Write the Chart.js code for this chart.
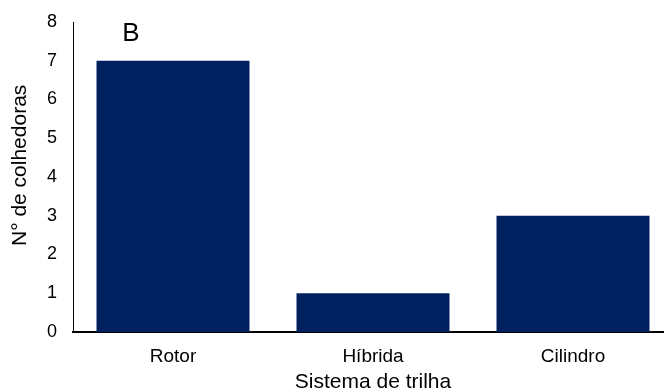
<!DOCTYPE html>
<html>
<head>
<meta charset="utf-8">
<script src="https://cdn.jsdelivr.net/npm/chart.js@4.4.1/dist/chart.umd.min.js"></script>
<style>
  html, body { margin: 0; padding: 0; overflow: hidden; background: #fff; }
  #wrap { width: 673px; height: 392px; }
</style>
</head>
<body>
<div id="wrap"><canvas id="colhedorasChart" width="673" height="392"></canvas></div>
<script>
// Number of harvesters per threshing system
const sistemas = ['Rotor', 'Híbrida', 'Cilindro'];
const colhedoras = [7, 1, 3];
const yTicks = [0, 1, 2, 3, 4, 5, 6, 7, 8];

const fontFamily = '"Liberation Sans", Arial, sans-serif';

// Panel letter in the upper left of the plot
const panelLabel = {
    id: 'panelLabel',
    afterDraw(chart) {
        const ctx = chart.ctx;
        const area = chart.chartArea;
        ctx.save();
        ctx.fillStyle = '#000';
        ctx.font = '26px ' + fontFamily;
        ctx.textAlign = 'center';
        ctx.textBaseline = 'middle';
        ctx.fillText('B', area.left + 58, area.top + 12);
        ctx.restore();
    }
};

const ctx = document.getElementById('colhedorasChart').getContext('2d');
const chart = new Chart(ctx, {
    type: 'bar',
    data: {
        labels: sistemas,
        datasets: [{
            data: colhedoras,
            backgroundColor: '#002060',
            borderWidth: 0,
            barPercentage: 0.765,
            categoryPercentage: 1
        }]
    },
    options: {
        responsive: false,
        animation: false,
        layout: { padding: 0 },
        plugins: {
            legend: { display: false },
            tooltip: { enabled: false }
        },
        scales: {
            x: {
                grid: { display: false, drawTicks: false },
                border: { color: '#000', width: 2 },
                ticks: {
                    color: '#000',
                    padding: 13,
                    font: { family: fontFamily, size: 19 }
                },
                title: {
                    display: true,
                    text: 'Sistema de trilha',
                    color: '#000',
                    padding: { top: 0, bottom: 0 },
                    font: { family: fontFamily, size: 21, lineHeight: 0.9 }
                },
                afterFit(scale) { scale.height = 60; }
            },
            y: {
                min: 0,
                max: 8,
                afterBuildTicks(scale) {
                    scale.ticks = yTicks.map(v => ({ value: v }));
                },
                grid: { display: false, drawTicks: false },
                border: { color: '#000', width: 1 },
                ticks: {
                    color: '#000',
                    padding: 16,
                    font: { family: fontFamily, size: 18 }
                },
                title: {
                    display: true,
                    // leading spaces lift the title a little above the axis centre
                    text: '    N° de colhedoras',
                    color: '#000',
                    padding: { top: 8, bottom: 0 },
                    font: { family: fontFamily, size: 21 }
                },
                afterFit(scale) {
                    // fixed gutter and headroom above the top tick
                    scale.width = 73;
                    scale.paddingTop = 22;
                    scale.paddingBottom = 0;
                }
            }
        }
    },
    plugins: [panelLabel]
});
</script>
</body>
</html>
